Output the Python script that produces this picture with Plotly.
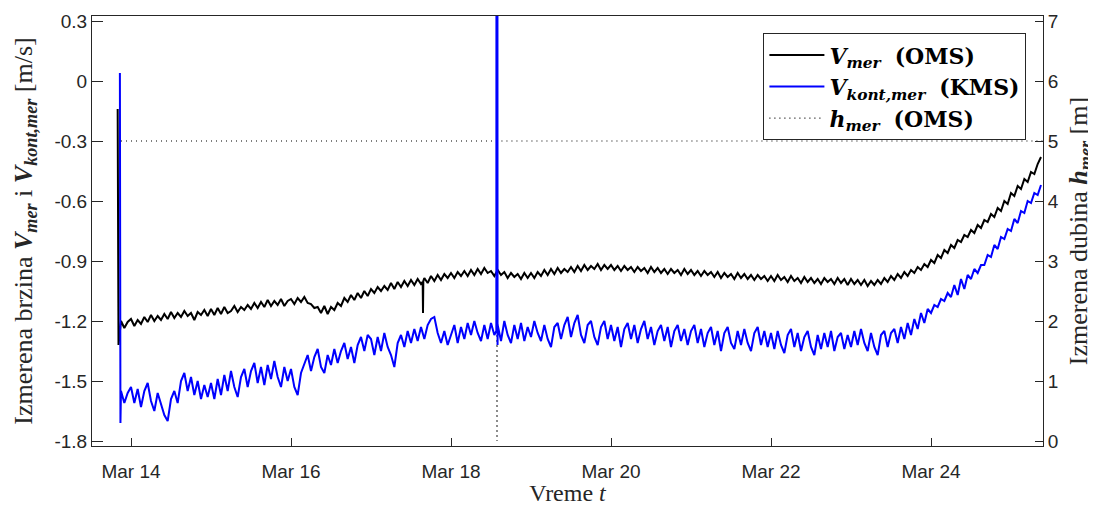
import pandas as pd
import plotly.graph_objects as go

# hourly samples starting Mar 13 21:00 (one day = two rows)
v_mer = [
    -1.20, -1.235, -1.205,
    -1.19, -1.225, -1.195, -1.215, -1.18, -1.205, -1.17, -1.20, -1.175, -1.195, -1.165, -1.19,
    -1.155, -1.185, -1.16, -1.18, -1.15, -1.175, -1.16, -1.195, -1.155, -1.17, -1.145, -1.175,
    -1.14, -1.17, -1.135, -1.165, -1.13, -1.16, -1.15, -1.125, -1.155, -1.13, -1.145, -1.12,
    -1.14, -1.11, -1.135, -1.105, -1.13, -1.095, -1.125, -1.10, -1.12, -1.09, -1.125, -1.10,
    -1.09, -1.115, -1.085, -1.105, -1.08, -1.11, -1.115, -1.135, -1.13, -1.16, -1.125, -1.165,
    -1.13, -1.145, -1.11, -1.125, -1.085, -1.105, -1.07, -1.095, -1.06, -1.085, -1.05, -1.075,
    -1.04, -1.06, -1.03, -1.05, -1.025, -1.045, -1.01, -1.04, -1.005, -1.03, -1.00, -1.025,
    -0.995, -1.02, -0.99, -1.015, -0.985, -1.01, -0.975, -1.00, -0.97, -0.995, -0.965, -0.985,
    -0.96, -0.985, -0.955, -0.975, -0.95, -0.975, -0.945, -0.97, -0.94, -0.965, -0.935, -0.96,
    -0.95, -0.975, -0.945, -0.97, -0.955, -0.985, -0.96, -0.98, -0.965, -0.99, -0.96, -0.985,
    -0.96, -0.985, -0.955, -0.975, -0.945, -0.97, -0.94, -0.965, -0.935, -0.96, -0.94, -0.955,
    -0.93, -0.955, -0.925, -0.95, -0.92, -0.945, -0.925, -0.94, -0.915, -0.945, -0.92, -0.94,
    -0.92, -0.945, -0.925, -0.95, -0.925, -0.945, -0.93, -0.955, -0.93, -0.95, -0.935, -0.96,
    -0.93, -0.955, -0.935, -0.96, -0.94, -0.965, -0.94, -0.96, -0.945, -0.97, -0.94, -0.965,
    -0.945, -0.97, -0.95, -0.975, -0.95, -0.97, -0.955, -0.98, -0.955, -0.985, -0.96, -0.98,
    -0.965, -0.99, -0.96, -0.985, -0.965, -0.99, -0.97, -0.995, -0.97, -0.99, -0.975, -1.00,
    -0.975, -1.00, -0.97, -0.995, -0.98, -1.005, -0.975, -1.00, -0.985, -1.01, -0.98, -1.005,
    -0.985, -1.01, -0.99, -1.015, -0.985, -1.005, -0.99, -1.015, -0.985, -1.01, -0.99, -1.02,
    -0.99, -1.015, -0.995, -1.02, -0.995, -1.025, -1.00, -1.02, -0.995, -1.015, -0.985, -1.005,
    -0.975, -0.995, -0.965, -0.985, -0.955, -0.975, -0.945, -0.96, -0.93, -0.945, -0.915, -0.93,
    -0.895, -0.91, -0.87, -0.885, -0.845, -0.86, -0.82, -0.835, -0.795, -0.805, -0.77, -0.78,
    -0.745, -0.76, -0.72, -0.735, -0.695, -0.705, -0.665, -0.68, -0.635, -0.65, -0.60, -0.615,
    -0.56, -0.575, -0.525, -0.54, -0.49, -0.505, -0.455, -0.465, -0.415, -0.38,
]
v_kont = [
    -1.55, -1.61, -1.56,
    -1.53, -1.61, -1.54, -1.63, -1.55, -1.51, -1.60, -1.65, -1.56, -1.62, -1.67, -1.70,
    -1.59, -1.55, -1.61, -1.50, -1.46, -1.55, -1.48, -1.57, -1.50, -1.59, -1.52, -1.58,
    -1.51, -1.59, -1.49, -1.57, -1.47, -1.55, -1.45, -1.53, -1.58, -1.48, -1.44, -1.53,
    -1.45, -1.41, -1.51, -1.43, -1.52, -1.42, -1.49, -1.40, -1.48, -1.53, -1.43, -1.50,
    -1.44, -1.53, -1.57, -1.46, -1.41, -1.37, -1.45, -1.38, -1.34, -1.43, -1.46, -1.37,
    -1.42, -1.34, -1.41, -1.35, -1.31, -1.39, -1.33, -1.41, -1.32, -1.28, -1.35, -1.27,
    -1.29, -1.37, -1.28, -1.35, -1.26, -1.33, -1.37, -1.43, -1.31, -1.27, -1.33, -1.25,
    -1.31, -1.24, -1.30, -1.23, -1.29, -1.22, -1.19, -1.18, -1.26, -1.31, -1.25, -1.32,
    -1.27, -1.22, -1.31, -1.23, -1.29, -1.21, -1.27, -1.20, -1.26, -1.30, -1.22, -1.29,
    -1.21, -1.27, -1.22, -1.30, -1.20, -1.27, -1.31, -1.22, -1.29, -1.21, -1.30, -1.23,
    -1.28, -1.20, -1.26, -1.30, -1.22, -1.29, -1.33, -1.23, -1.21, -1.29, -1.22, -1.18,
    -1.28, -1.21, -1.17, -1.27, -1.31, -1.22, -1.20, -1.28, -1.32, -1.23, -1.20, -1.29,
    -1.22, -1.30, -1.23, -1.33, -1.24, -1.21, -1.29, -1.22, -1.31, -1.24, -1.20, -1.29,
    -1.23, -1.32, -1.25, -1.22, -1.30, -1.23, -1.33, -1.25, -1.22, -1.30, -1.24, -1.32,
    -1.25, -1.22, -1.31, -1.24, -1.33, -1.26, -1.23, -1.32, -1.25, -1.35, -1.26, -1.23,
    -1.31, -1.34, -1.25, -1.32, -1.24, -1.31, -1.35, -1.26, -1.23, -1.32, -1.25, -1.33,
    -1.26, -1.34, -1.25, -1.32, -1.36, -1.27, -1.24, -1.33, -1.26, -1.35, -1.28, -1.25,
    -1.33, -1.37, -1.27, -1.34, -1.26, -1.33, -1.25, -1.35, -1.28, -1.26, -1.34, -1.27,
    -1.33, -1.25, -1.32, -1.24, -1.31, -1.35, -1.26, -1.33, -1.37, -1.27, -1.25, -1.33,
    -1.26, -1.24, -1.31, -1.23, -1.29, -1.21, -1.27, -1.19, -1.24, -1.16, -1.21, -1.14,
    -1.16, -1.12, -1.13, -1.09, -1.10, -1.06, -1.08, -1.02, -1.07, -0.99, -1.04, -0.97,
    -0.99, -0.94, -0.96, -0.92, -0.92, -0.87, -0.88, -0.82, -0.84, -0.78, -0.79, -0.74,
    -0.75, -0.69, -0.71, -0.65, -0.66, -0.60, -0.61, -0.56, -0.57, -0.52,
]

# short spikes between the hourly samples
mer_spike_t = ["2021-03-13 20:00", "2021-03-13 20:15",
               "2021-03-17 15:30", "2021-03-17 15:36", "2021-03-17 15:42"]
mer_spike_v = [-0.14, -1.32, -1.005, -1.16, -1.00]
kont_spike_t = ["2021-03-13 20:40", "2021-03-13 20:50",
                "2021-03-18 13:36", "2021-03-18 13:38", "2021-03-18 13:56", "2021-03-18 13:58"]
kont_spike_v = [0.04, -1.71, -1.25, 0.60, 0.60, -1.32]

h_t = ["2021-03-13 21:00", "2021-03-18 13:44", "2021-03-18 13:48",
       "2021-03-18 13:52", "2021-03-25 09:36"]
h_mer = [5.0, 5.0, 0.0, 5.0, 5.0]

v_ticks = [-1.8, -1.5, -1.2, -0.9, -0.6, -0.3, 0, 0.3]
v_labels = ["-1.8", "-1.5", "-1.2", "-0.9", "-0.6", "-0.3", "0", "0.3"]
h_ticks = [0, 1, 2, 3, 4, 5, 6, 7]


def merged(values, spike_t, spike_v):
    t = pd.date_range("2021-03-13 21:00", periods=len(values), freq="h")
    s = pd.concat([pd.Series(values, index=t),
                   pd.Series(spike_v, index=pd.to_datetime(spike_t))]).sort_index()
    return s.index, s.values


t_mer, y_mer = merged(v_mer, mer_spike_t, mer_spike_v)
t_kont, y_kont = merged(v_kont, kont_spike_t, kont_spike_v)

axis_col = '#262626'
tick_font = dict(family='Liberation Sans', size=19, color=axis_col)
ytitle_font = dict(family='Liberation Serif', size=26, color=axis_col)

fig = go.Figure()

fig.add_trace(go.Scatter(
    x=h_t, y=h_mer, yaxis='y', mode='lines',
    name='<b><i>h</i></b><sub><b><i>mer</i></b></sub>  <b>(OMS)</b>',
    line=dict(color='black', width=1.2, dash='1px,4px'),
    legendrank=3,
))
fig.add_trace(go.Scatter(
    x=t_mer, y=y_mer, yaxis='y2', mode='lines',
    name='<b><i>V</i></b><sub><b><i>mer</i></b></sub>  <b>(OMS)</b>',
    line=dict(color='black', width=2),
    legendrank=1,
))
fig.add_trace(go.Scatter(
    x=t_kont, y=y_kont, yaxis='y2', mode='lines',
    name='<b><i>V</i></b><sub><b><i>kont,mer</i></b></sub>  <b>(KMS)</b>',
    line=dict(color='#0000ff', width=2),
    legendrank=2,
))

# the page body adds an 8px offset, so the figure is 8px smaller than the window
fig.update_layout(
    width=1088, height=498,
    margin=dict(l=84, r=53, t=8, b=60),
    paper_bgcolor='white', plot_bgcolor='white',
    showlegend=True,
    legend=dict(
        x=0.706, y=0.96, xanchor='left', yanchor='top',
        bgcolor='white', bordercolor=axis_col, borderwidth=1,
        font=dict(family='DejaVu Serif', size=22, color='black'),
        itemwidth=55,
    ),
    xaxis=dict(
        type='date',
        range=['2021-03-13 12:18', '2021-03-25 09:36'],
        tick0='2021-03-14', dtick=2 * 86400000, tickformat='%b %d',
        ticks='inside', ticklen=8, tickcolor=axis_col,
        ticklabelstandoff=8,
        showline=True, linecolor=axis_col, mirror=True,
        showgrid=False, zeroline=False, automargin=False,
        tickfont=tick_font,
        title=dict(text='Vreme <i>t</i>',
                   font=dict(family='Liberation Serif', size=24, color=axis_col),
                   standoff=2),
    ),
    yaxis=dict(
        side='right',
        range=[-1 / 12, 7 + 1 / 12],
        tickvals=h_ticks,
        ticks='inside', ticklen=8, tickcolor=axis_col,
        showline=True, linecolor=axis_col,
        showgrid=False, zeroline=False, automargin=False,
        tickfont=tick_font,
        title=dict(text='Izmerena dubina <b><i>h</i></b><sub><b><i>mer</i></b></sub> [m]',
                   font=ytitle_font, standoff=12),
    ),
    yaxis2=dict(
        overlaying='y', side='left',
        range=[-1.825, 0.325],
        tickvals=v_ticks, ticktext=v_labels,
        ticks='inside', ticklen=11, tickcolor=axis_col,
        showline=True, linecolor=axis_col,
        showgrid=False, zeroline=False, automargin=False,
        tickfont=tick_font,
        title=dict(text='Izmerena brzina <b><i>V</i></b><sub><b><i>mer</i></b></sub> i '
                        '<b><i>V</i></b><sub><b><i>kont,mer</i></b></sub> [m/s]',
                   font=ytitle_font, standoff=14),
    ),
)

fig.write_html("out.html")
